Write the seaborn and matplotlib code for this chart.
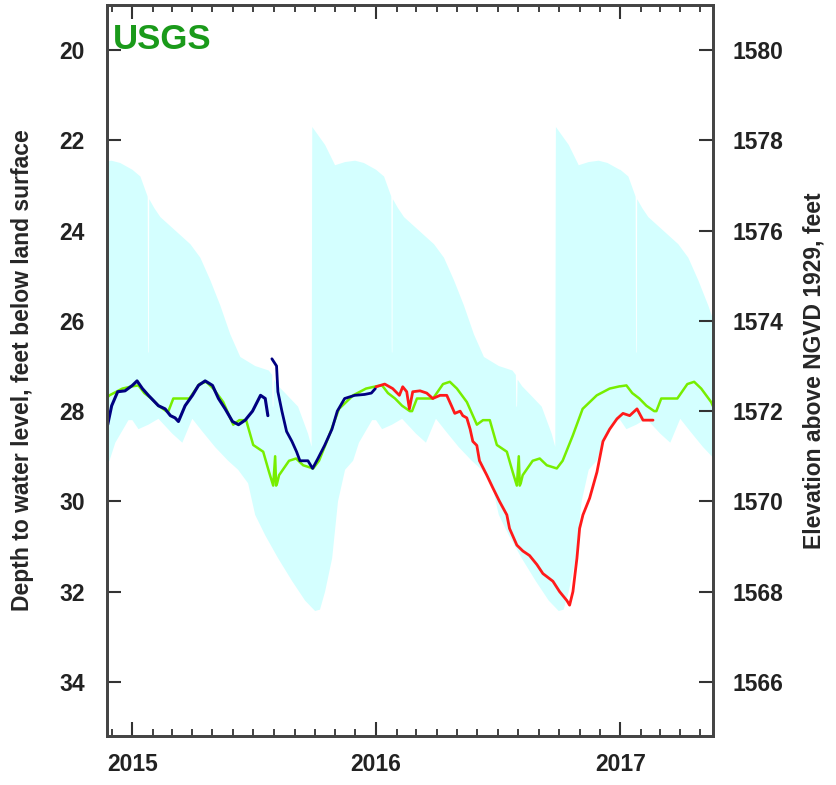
import pandas as pd
import numpy as np
import seaborn as sns
import matplotlib.pyplot as plt
import matplotlib.dates as mdates

# daily statistics, as fraction of the year -> depth (ft below land surface)
band_top_f = [0.0, 0.033, 0.053, 0.063, 0.0645, 0.0675, 0.069, 0.09, 0.115, 0.156, 0.197, 0.238,
              0.279, 0.320, 0.361, 0.402, 0.443, 0.504, 0.560, 0.574, 0.576, 0.579, 0.581, 0.600,
              0.627, 0.680, 0.721, 0.736, 0.738, 0.791, 0.832, 0.873, 0.914, 0.95, 1.0]
band_top_d = [22.65, 22.8, 23.1, 23.25, 26.7, 26.7, 23.3, 23.5, 23.7, 23.9, 24.1, 24.3,
              24.6, 25.1, 25.66, 26.3, 26.8, 27.0, 27.1, 27.2, 27.9, 27.9, 27.3, 27.45,
              27.6, 27.9, 28.5, 28.8, 21.7, 22.1, 22.55, 22.48, 22.45, 22.5, 22.65]

band_bot_f = [0.0, 0.025, 0.066, 0.107, 0.164, 0.205, 0.246, 0.287, 0.340, 0.393, 0.434, 0.475,
              0.504, 0.545, 0.598, 0.656, 0.709, 0.750, 0.770, 0.791, 0.820, 0.844, 0.873, 0.906,
              0.930, 0.984, 1.0]
band_bot_d = [28.2, 28.4, 28.3, 28.17, 28.5, 28.7, 28.17, 28.45, 28.8, 29.1, 29.3, 29.6,
              30.3, 30.75, 31.26, 31.77, 32.2, 32.43, 32.4, 32.0, 31.26, 30.0, 29.3, 29.1,
              28.7, 28.2, 28.2]

median_f = [0.0, 0.025, 0.049, 0.078, 0.107, 0.139, 0.148, 0.168, 0.234, 0.275, 0.303, 0.332,
            0.373, 0.414, 0.439, 0.467, 0.496, 0.537, 0.561, 0.578, 0.586, 0.590, 0.594, 0.602,
            0.643, 0.672, 0.701, 0.742, 0.766, 0.807, 0.848, 0.906, 0.959, 1.0]
median_d = [27.45, 27.43, 27.6, 27.72, 27.88, 28.0, 28.0, 27.72, 27.72, 27.4, 27.35, 27.5,
            27.8, 28.3, 28.2, 28.2, 28.75, 28.9, 29.35, 29.65, 29.0, 29.65, 29.6, 29.42,
            29.1, 29.05, 29.2, 29.27, 29.1, 28.55, 27.95, 27.65, 27.5, 27.45]

years = [2014, 2015, 2016, 2017]

# measured water levels
navy1_dates = ["2014-11-25", "2014-12-01", "2014-12-10", "2014-12-21", "2015-01-01", "2015-01-08",
               "2015-01-16", "2015-01-25", "2015-02-09", "2015-02-19", "2015-02-27", "2015-03-06",
               "2015-03-11", "2015-03-21", "2015-04-01", "2015-04-10", "2015-04-20", "2015-05-01",
               "2015-05-10", "2015-05-20", "2015-05-31", "2015-06-09", "2015-06-19", "2015-06-30",
               "2015-07-12", "2015-07-19", "2015-07-23"]
navy1_depth = [28.3, 27.88, 27.57, 27.55, 27.43, 27.33, 27.5, 27.65, 27.88, 27.95, 28.1, 28.15,
               28.23, 27.88, 27.65, 27.43, 27.33, 27.43, 27.72, 27.95, 28.23, 28.3, 28.2, 28.0,
               27.65, 27.72, 28.1]
navy2_dates = ["2015-07-29", "2015-08-05", "2015-08-07", "2015-08-13", "2015-08-20", "2015-08-28",
               "2015-09-04", "2015-09-09", "2015-09-21", "2015-09-28", "2015-10-06", "2015-10-16",
               "2015-10-27", "2015-11-04", "2015-11-15", "2015-11-30", "2015-12-15", "2015-12-25",
               "2015-12-31"]
navy2_depth = [26.84, 27.0, 27.57, 28.0, 28.45, 28.67, 28.9, 29.1, 29.1, 29.27, 29.05, 28.76,
               28.4, 28.0, 27.72, 27.65, 27.63, 27.6, 27.5]
red_dates = ["2016-01-01", "2016-01-14", "2016-01-26", "2016-02-05", "2016-02-10", "2016-02-16",
             "2016-02-20", "2016-02-25", "2016-03-07", "2016-03-17", "2016-03-26", "2016-04-06",
             "2016-04-16", "2016-04-23", "2016-04-28", "2016-05-06", "2016-05-10", "2016-05-16",
             "2016-05-21", "2016-05-25", "2016-05-31", "2016-06-04", "2016-06-15", "2016-06-24",
             "2016-07-04", "2016-07-15", "2016-07-19", "2016-07-30", "2016-08-08", "2016-08-18",
             "2016-08-29", "2016-09-07", "2016-09-22", "2016-10-02", "2016-10-13", "2016-10-17",
             "2016-10-22", "2016-10-28", "2016-11-01", "2016-11-06", "2016-11-16", "2016-11-27",
             "2016-12-06", "2016-12-16", "2016-12-27", "2017-01-05", "2017-01-15", "2017-01-26",
             "2017-02-04", "2017-02-14", "2017-02-19"]
red_depth = [27.46, 27.4, 27.5, 27.65, 27.46, 27.57, 27.95, 27.57, 27.55, 27.6, 27.72, 27.65,
             27.65, 27.88, 28.05, 28.0, 28.1, 28.15, 28.4, 28.67, 28.76, 29.1, 29.42, 29.7,
             30.0, 30.3, 30.6, 30.97, 31.1, 31.2, 31.4, 31.6, 31.77, 32.0, 32.2, 32.3,
             32.0, 31.26, 30.6, 30.3, 29.93, 29.35, 28.67, 28.4, 28.17, 28.05, 28.1, 27.95,
             28.2, 28.2, 28.2]


def tile(frac, depth):
    rows = []
    for yr in years:
        start = pd.Timestamp(yr, 1, 1)
        for f, d in zip(frac, depth):
            rows.append((start + pd.to_timedelta(f * 365, unit="D"), d))
    return pd.DataFrame(rows, columns=["date", "depth"])


top = tile(band_top_f, band_top_d)
bot = tile(band_bot_f, band_bot_d)
med = tile(median_f, median_d)

sns.set_theme(style="ticks")
plt.rcParams["font.family"] = ["Liberation Sans", "DejaVu Sans"]
plt.rcParams["font.weight"] = "bold"

fig = plt.figure(figsize=(8.36, 7.85), dpi=100)
ax = fig.add_axes([0.128, 0.0624, 0.725, 0.9312])

# band: merge both edges on a common time grid
grid = pd.date_range("2014-01-01", "2018-01-01", freq="6h")
gnum = mdates.date2num(grid)
top_i = np.interp(gnum, mdates.date2num(top["date"]), top["depth"])
bot_i = np.interp(gnum, mdates.date2num(bot["date"]), bot["depth"])
ax.fill_between(grid, top_i, bot_i, color="#d4ffff", linewidth=0)

sns.lineplot(data=med, x="date", y="depth", ax=ax, color="#77ee00", linewidth=1.8,
             estimator=None, sort=False)
sns.lineplot(x=pd.to_datetime(navy1_dates), y=navy1_depth, ax=ax, color="#000080",
             linewidth=2.2, estimator=None, sort=False)
sns.lineplot(x=pd.to_datetime(navy2_dates), y=navy2_depth, ax=ax, color="#000080",
             linewidth=2.0, estimator=None, sort=False)
sns.lineplot(x=pd.to_datetime(red_dates), y=red_depth, ax=ax, color="#ff1a1a",
             linewidth=2.0, estimator=None, sort=False)

ax.set_xlim(pd.Timestamp("2014-11-24"), pd.Timestamp("2017-05-20"))
ax.set_ylim(35.2, 19.0)
ax.set_yticks([20, 22, 24, 26, 28, 30, 32, 34])
ax.xaxis.set_major_locator(mdates.YearLocator())
ax.xaxis.set_major_formatter(mdates.DateFormatter("%Y"))
ax.xaxis.set_minor_locator(mdates.MonthLocator())
ax.set_xlabel("")
ax.set_ylabel("Depth to water level, feet below land surface", fontsize=16.5,
              fontweight="bold", labelpad=18)

ax.tick_params(axis="x", which="major", direction="in", top=True, length=10, width=1.5,
               labelsize=16.5, pad=12, color="#333333")
ax.tick_params(axis="x", which="minor", direction="in", top=True, length=5, width=1.3,
               color="#333333")
ax.tick_params(axis="y", which="major", direction="in", length=10, width=1.5,
               labelsize=16.5, pad=16, color="#333333")

ax2 = ax.twinx()
ax2.set_ylim(1600 - 35.2, 1600 - 19.0)
ax2.set_yticks([1566, 1568, 1570, 1572, 1574, 1576, 1578, 1580])
ax2.tick_params(axis="y", direction="in", length=10, width=1.5, labelsize=16.5, pad=14,
                color="#333333")
ax2.set_ylabel("Elevation above NGVD 1929, feet", fontsize=16.5, fontweight="bold",
               rotation=90, labelpad=14)

for a in (ax, ax2):
    for s in a.spines.values():
        s.set_linewidth(2)
        s.set_color("#444444")
    for lab in a.get_xticklabels() + a.get_yticklabels():
        lab.set_fontweight("bold")
        lab.set_color("#222222")

ax.text(0.01, 0.975, "USGS", transform=ax.transAxes, ha="left", va="top",
        fontsize=25, fontweight="bold", color="#1a9a1a")

fig.savefig("out.png", dpi=100)
